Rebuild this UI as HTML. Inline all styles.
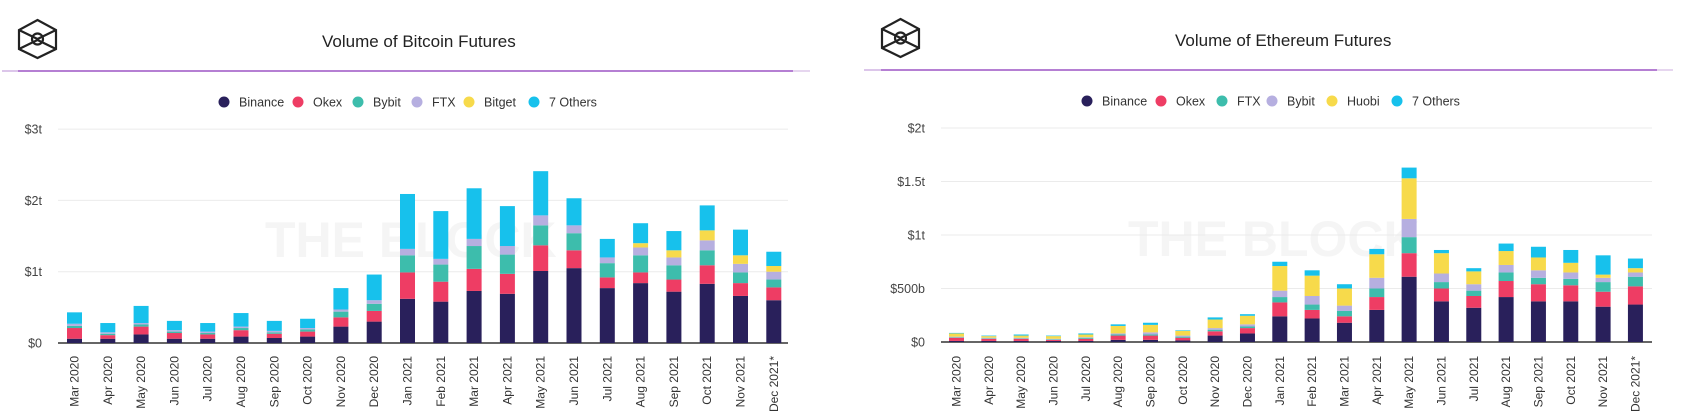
<!DOCTYPE html>
<html><head><meta charset="utf-8"><style>
body{margin:0;background:#fff;}
svg{display:block;font-family:"Liberation Sans",sans-serif;}
</style></head><body>
<svg id="s" width="1700" height="419" viewBox="0 0 1700 419">
<g>
 <g fill="none" stroke="#222" stroke-width="2.2">
  <path d="M37.5 20 L56 30 L56 49 L37.5 58 L19 49 L19 30 Z M19 30 L37.5 39 L56 30 M19 49 L37.5 40 L56 49 M37.5 39 L37.5 40"/>
  <circle cx="37.5" cy="39" r="5.5"/>
 </g>
 <text x="322" y="47" font-size="17" fill="#222">Volume of Bitcoin Futures</text>
 <line x1="2" y1="71" x2="18" y2="71" stroke="#dcc6ea" stroke-width="2"/>
 <line x1="18" y1="71" x2="793" y2="71" stroke="#b57fd3" stroke-width="2"/>
 <line x1="793" y1="71" x2="810" y2="71" stroke="#e6d6ef" stroke-width="2"/>
 <text x="265" y="257" font-size="50" font-weight="bold" fill="#f5f5f5">THE BLOCK</text>
 <g id="btcLegend"></g>
 <g id="btcChart"></g>
</g>
<g>
 <g fill="none" stroke="#222" stroke-width="2.2">
  <path d="M900.5 19 L919 29 L919 48 L900.5 57 L882 48 L882 29 Z M882 29 L900.5 38 L919 29 M882 48 L900.5 39 L919 48"/>
  <circle cx="900.5" cy="38" r="5.5"/>
 </g>
 <text x="1175" y="46" font-size="17" fill="#222">Volume of Ethereum Futures</text>
 <line x1="864" y1="70" x2="881" y2="70" stroke="#dcc6ea" stroke-width="2"/>
 <line x1="881" y1="70" x2="1657" y2="70" stroke="#b57fd3" stroke-width="2"/>
 <line x1="1657" y1="70" x2="1673" y2="70" stroke="#e6d6ef" stroke-width="2"/>
 <text x="1128" y="256" font-size="50" font-weight="bold" fill="#f5f5f5">THE BLOCK</text>
 <g id="ethLegend"></g>
 <g id="ethChart"></g>
</g>
</svg>
<script>
const months = ["Mar 2020","Apr 2020","May 2020","Jun 2020","Jul 2020","Aug 2020","Sep 2020","Oct 2020","Nov 2020","Dec 2020","Jan 2021","Feb 2021","Mar 2021","Apr 2021","May 2021","Jun 2021","Jul 2021","Aug 2021","Sep 2021","Oct 2021","Nov 2021","Dec 2021*"];
const colors = ["#29205b","#ee3d64","#3dbdac","#b6afe0","#f7da4b","#17c1ec"];
// BTC series (trillions)
const btcNames = ["Binance","Okex","Bybit","FTX","Bitget","7 Others"];
const btcBinance = [.06,.06,.12,.06,.06,.09,.07,.09,.23,.30,.62,.58,.73,.69,1.01,1.05,.77,.84,.72,.83,.66,.60];
const btcOkex    = [.15,.05,.11,.08,.06,.09,.06,.07,.13,.15,.37,.28,.31,.28,.36,.25,.15,.15,.17,.26,.18,.18];
const btcBybit   = [.03,.02,.03,.02,.02,.03,.02,.03,.08,.10,.24,.24,.32,.27,.28,.24,.20,.24,.20,.21,.15,.11];
const btcFTX     = [.03,.02,.02,.02,.02,.02,.02,.02,.03,.05,.09,.08,.10,.12,.14,.11,.08,.11,.11,.14,.12,.11];
const btcBitget  = [0,0,0,0,0,0,0,0,0,0,0,0,0,0,0,0,0,.06,.10,.14,.12,.08];
const btcOthers  = [.16,.13,.24,.13,.12,.19,.14,.13,.30,.36,.77,.67,.71,.56,.62,.38,.26,.28,.27,.35,.36,.20];
const btcTicks = [0,1,2,3];
const btcTickLabels = ["$0","$1t","$2t","$3t"];
// ETH series (trillions)
const ethNames = ["Binance","Okex","FTX","Bybit","Huobi","7 Others"];
const ethBinance = [.01,.01,.01,.01,.01,.02,.02,.015,.06,.08,.24,.22,.18,.30,.61,.38,.32,.42,.38,.38,.33,.35];
const ethOkex    = [.03,.02,.02,.01,.02,.04,.04,.025,.04,.05,.13,.08,.06,.12,.22,.12,.11,.15,.16,.15,.14,.17];
const ethFTX     = [.005,.005,.005,.005,.01,.01,.01,.01,.015,.015,.05,.05,.05,.08,.15,.06,.05,.08,.06,.06,.09,.09];
const ethBybit   = [.005,.005,.005,.005,.005,.01,.02,.01,.015,.02,.06,.08,.05,.10,.17,.08,.06,.07,.07,.06,.04,.04];
const ethHuobi   = [.03,.015,.02,.025,.025,.07,.07,.045,.08,.08,.23,.19,.16,.22,.38,.19,.12,.13,.12,.09,.03,.04];
const ethOthers  = [.005,.005,.01,.005,.01,.015,.02,.005,.02,.015,.04,.05,.04,.05,.10,.03,.03,.07,.10,.12,.18,.09];
const ethTicks = [0,0.5,1,1.5,2];
const ethTickLabels = ["$0","$500b","$1t","$1.5t","$2t"];

const NS="http://www.w3.org/2000/svg";
function mk(tag,attrs,parent){const e=document.createElementNS(NS,tag);for(const k in attrs)e.setAttribute(k,attrs[k]);parent.appendChild(e);return e;}

function legend(g,names,pos,ty){
  names.forEach((n,i)=>{
    const c=mk("circle",{cx:pos[i],cy:ty,r:5.5,fill:colors[i]},g);
    
    
    const t=mk("text",{x:pos[i]+15,y:ty+4.5,"font-size":"12.5",fill:"#333"},g);
    
    
    t.textContent=n;
  });
}

function chart(g,series,ticks,tickLabels,o){
  const yS=v=>o.y0-v*o.ppu;
  const xS=i=>o.x0+i*o.step;
  ticks.forEach((tv,i)=>{
    const l=mk("line",{x1:o.gx1,x2:o.gx2,y1:yS(tv),y2:yS(tv),stroke:i===0?"#333":"#ebebeb","stroke-width":i===0?1.5:1},g);
    
    
    const t=mk("text",{x:o.lx,y:yS(tv)+4.5,"text-anchor":"end","font-size":"12.5",fill:"#444"},g);
    
    
    t.textContent=tickLabels[i];
  });
  months.forEach((m,i)=>{
    let acc=0;
    series.forEach((s,k)=>{
      const v=s[i]; if(v<=0) return;
      const r=mk("rect",{x:xS(i)-7.5,y:yS(acc+v),width:15,height:v*o.ppu,fill:colors[k]},g);
      
      
      acc+=v;
    });
    const cx=xS(i)+4;
    const t=mk("text",{x:0,y:0,"text-anchor":"end","font-size":"12",fill:"#333",transform:`translate(${cx},356) rotate(-90)`},g);
    
    
    t.textContent=m;
  });
}

legend(document.getElementById('btcLegend'),btcNames,[224,298,358,417,469,534],102);
legend(document.getElementById('ethLegend'),ethNames,[1087,1161,1222,1272,1332,1397],101);
chart(document.getElementById('btcChart'),[btcBinance,btcOkex,btcBybit,btcFTX,btcBitget,btcOthers],btcTicks,btcTickLabels,
  {y0:343,ppu:71.3,x0:74.5,step:33.3,gx1:58,gx2:788,lx:42});
chart(document.getElementById('ethChart'),[ethBinance,ethOkex,ethFTX,ethBybit,ethHuobi,ethOthers],ethTicks,ethTickLabels,
  {y0:342,ppu:107,x0:956.5,step:32.33,gx1:941,gx2:1652,lx:925});
</script>
</body></html>
